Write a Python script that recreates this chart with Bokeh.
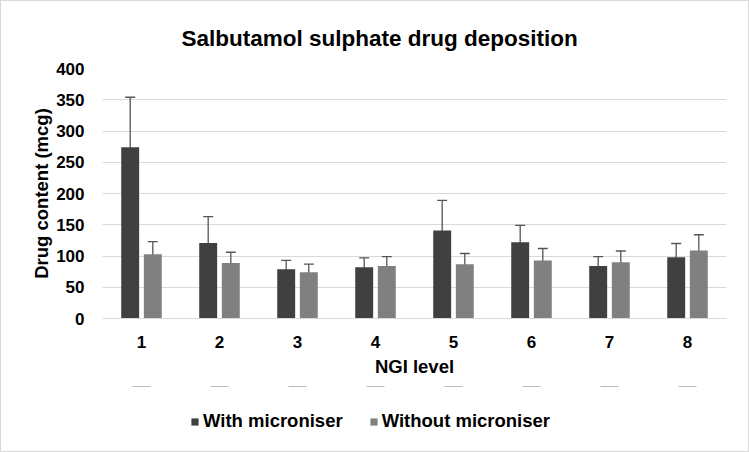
from bokeh.plotting import figure
from bokeh.layouts import column
from bokeh.models import ColumnDataSource, Whisker, TeeHead, FixedTicker, Legend, LegendItem, FactorRange, Range1d
from bokeh.transform import dodge
from bokeh.embed import file_html
from bokeh.resources import INLINE

levels = ["1", "2", "3", "4", "5", "6", "7", "8"]
with_micro = [274, 121, 79, 82, 141, 122, 84, 98]
with_err = [80, 42, 14, 15, 48, 27, 15, 22]
without_micro = [103, 89, 74, 84, 87, 93, 90, 109]
without_err = [20, 17, 13, 15, 17, 19, 18, 25]
y_ticks = [0, 50, 100, 150, 200, 250, 300, 350, 400]
series_names = ["With microniser", "Without microniser"]

src = ColumnDataSource(dict(
    x=levels,
    w=with_micro,
    w_lo=[v - e for v, e in zip(with_micro, with_err)],
    w_hi=[v + e for v, e in zip(with_micro, with_err)],
    o=without_micro,
    o_lo=[v - e for v, e in zip(without_micro, without_err)],
    o_hi=[v + e for v, e in zip(without_micro, without_err)],
))

FONT = "Liberation Sans"
dark = "#404040"
light = "#808080"

xr = FactorRange(*levels, range_padding=0)
p = figure(frame_width=624, frame_height=250, x_range=xr,
           y_range=Range1d(0, 400), output_backend="svg", toolbar_location=None,
           min_border_left=101, min_border_right=22, min_border_top=67, min_border_bottom=68)

p.title.text = "Salbutamol sulphate drug deposition"
p.title.text_font = FONT
p.title.text_font_size = "22.5px"
p.title.text_color = "#000000"
p.title.align = "left"
p.title.offset = 79
p.title.standoff = 36

p.vbar(x=dodge("x", -0.145, range=xr), top="w", width=0.23, source=src,
       fill_color=dark, line_color=None)
p.vbar(x=dodge("x", 0.145, range=xr), top="o", width=0.23, source=src,
       fill_color=light, line_color=None)

ec = "#555555"
for lo, hi, off in (("w_lo", "w_hi", -0.145), ("o_lo", "o_hi", 0.145)):
    wk = Whisker(source=src, base=dodge("x", off, range=xr), lower=lo, upper=hi,
                 line_color=ec, line_width=1.3,
                 upper_head=TeeHead(size=10, line_color=ec, line_width=1.3),
                 lower_head=TeeHead(size=10, line_color=ec, line_width=1.3))
    p.add_layout(wk)

p.yaxis.ticker = FixedTicker(ticks=y_ticks)
p.ygrid.grid_line_color = "#d9d9d9"
p.ygrid.grid_line_width = 1
p.xgrid.grid_line_color = None
p.outline_line_color = None

for ax in (p.xaxis[0], p.yaxis[0]):
    ax.major_tick_line_color = None
    ax.minor_tick_line_color = None
    ax.major_label_text_font = FONT
    ax.major_label_text_font_style = "bold"
    ax.major_label_text_font_size = "17px"
    ax.major_label_text_color = "#000000"
    ax.axis_label_text_font = FONT
    ax.axis_label_text_font_style = "bold"
    ax.axis_label_text_font_size = "18.5px"
    ax.axis_label_text_color = "#000000"

p.yaxis.major_label_standoff = 12
p.xaxis.major_label_standoff = 11
p.yaxis.axis_line_color = None
p.xaxis.axis_line_color = "#d9d9d9"
p.yaxis.axis_label = "Drug content (mcg)"
p.xaxis.axis_label = "NGI level"
p.yaxis.axis_label_standoff = 1
p.xaxis.axis_label_standoff = 5
p.border_fill_color = "white"
p.background_fill_color = "white"

# legend strip below the chart (its bars sit outside its visible y range)
p2 = figure(width=747, height=65, x_range=xr, y_range=Range1d(-10, -5),
            output_backend="svg", toolbar_location=None,
            x_axis_location=None, y_axis_location=None,
            min_border_left=0, min_border_right=0, min_border_top=0, min_border_bottom=0)
p2.grid.visible = False
p2.outline_line_color = None
p2.border_fill_color = "white"
k1 = p2.vbar(x="x", top="w", width=0.23, source=src, fill_color=dark, line_color=None)
k2 = p2.vbar(x="x", top="o", width=0.23, source=src, fill_color=light, line_color=None)
legend = Legend(items=[LegendItem(label=series_names[0], renderers=[k1]),
                       LegendItem(label=series_names[1], renderers=[k2])],
                orientation="horizontal", location=(88, 19),
                label_text_font=FONT, label_text_font_style="bold",
                label_text_font_size="18.5px", label_text_color="#000000",
                glyph_width=9, glyph_height=9, spacing=26, label_standoff=4,
                border_line_color=None, background_fill_alpha=0, margin=0, padding=4)
p2.add_layout(legend, "center")

layout = column(p, p2, spacing=0, styles={"border": "1px solid #d9d9d9"})

open("out.html", "w").write(file_html(layout, INLINE))
